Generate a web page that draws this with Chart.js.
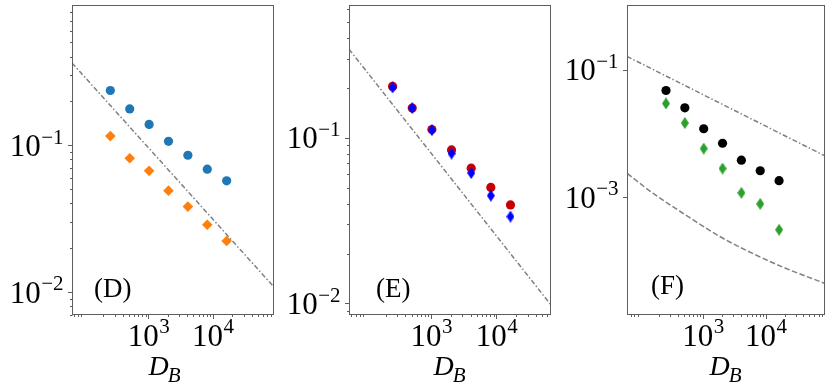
<!DOCTYPE html>
<html><head><meta charset="utf-8">
<script src="https://cdn.jsdelivr.net/npm/chart.js@4.4.1/dist/chart.umd.min.js"></script>
<style>
html,body{margin:0;padding:0;background:#fff;}
#wrap{position:relative;width:830px;height:390px;background:#fff;}
canvas{position:absolute;left:0;top:0;}
</style></head><body>
<div id="wrap">
<canvas id="cD" width="830" height="390"></canvas>
<canvas id="cE" width="830" height="390"></canvas>
<canvas id="cF" width="830" height="390"></canvas>
</div>
<script>
// ---------- data ----------
const DB = [256, 512, 1024, 2048, 4096, 8192, 16384];

const dCircle  = [0.235, 0.176, 0.138, 0.106, 0.0852, 0.0685, 0.0571];
const dDiamond = [0.115, 0.0813, 0.0667, 0.0489, 0.0381, 0.0287, 0.0222];
const dRefX = [65, 89000];
const dRefY = [0.362, 0.0108];

const eCircle  = [0.204, 0.151, 0.112, 0.0844, 0.0655, 0.0501, 0.0393];
const eDiamond = [0.201, 0.151, 0.111, 0.0802, 0.0612, 0.0447, 0.0334];
const eRefX = [55, 68400];
const eRefY = [0.342, 0.00978];

const fCircle  = [0.047, 0.0251, 0.0118, 0.00698, 0.00379, 0.00258, 0.0018];
const fDiamond = [0.0294, 0.0145, 0.00575, 0.0028, 0.00116, 0.000778, 0.000305];
const fRef1X = [61, 88700];
const fRef1Y = [0.1615, 0.00441];
const fRef2X = [61.6, 162, 547, 1836, 6167, 20800, 89000];
const fRef2Y = [0.00234, 0.001127, 0.00051, 0.00024, 0.00013, 0.000076, 0.0000438];

// tick labels
const xMajorTicks = [1e3, 1e4];
const xMajorExp   = ['3', '4'];
const dYMajor = [1e-1, 1e-2];   const dYExp = ['\u22121', '\u22122'];
const eYMajor = [1e-1, 1e-2];   const eYExp = ['\u22121', '\u22122'];
const fYMajor = [1e-1, 1e-3];   const fYExp = ['\u22121', '\u22123'];
const panelNames = ['(D)', '(E)', '(F)'];
const xTitleMain = 'D', xTitleSub = 'B';

// ---------- helpers ----------
const SERIF = "'Liberation Serif', 'Times New Roman', serif";
const FRAME = '#5e5e5e';
const REFC = '#808080';

function pts(xs, ys) { return xs.map((x, i) => ({x: x, y: ys[i]})); }

function thinDiamond(color, w, h) {
  const c = document.createElement('canvas');
  c.width = w; c.height = h;
  const g = c.getContext('2d');
  g.fillStyle = color;
  g.beginPath();
  g.moveTo(w / 2, 0); g.lineTo(w, h / 2); g.lineTo(w / 2, h); g.lineTo(0, h / 2);
  g.closePath(); g.fill();
  return c;
}

function minorValues(min, max) {
  const out = [];
  for (let e = Math.floor(Math.log10(min)); e <= Math.ceil(Math.log10(max)); e++) {
    for (let k = 2; k <= 9; k++) {
      const v = k * Math.pow(10, e);
      if (v >= min && v <= max) out.push(v);
    }
  }
  return out;
}

function markerSet(data, color, style, radius, order) {
  return {
    data: data, showLine: false, order: order,
    pointStyle: style, pointRadius: radius, pointHoverRadius: radius,
    backgroundColor: color, borderColor: color, borderWidth: 0
  };
}
function refLine(data, dash, order, smooth) {
  return {
    data: data, showLine: true, order: order, pointRadius: 0, pointHoverRadius: 0,
    borderColor: REFC, borderWidth: 1.5, borderDash: dash, fill: false,
    cubicInterpolationMode: smooth ? 'monotone' : 'default', tension: 0
  };
}

function decor(p) {
  return {
    id: 'decor' + p.name,
    afterDraw(chart) {
      const c = chart.ctx, a = chart.chartArea, xs = chart.scales.x, ys = chart.scales.y;
      c.save();
      c.strokeStyle = FRAME; c.lineWidth = 1;
      const L = Math.round(a.left) + 0.5, R = Math.round(a.right) - 0.5;
      const T = Math.round(a.top) + 0.5, B = Math.round(a.bottom) - 0.5;
      c.strokeRect(L, T, R - L, B - T);
      c.beginPath();
      xMajorTicks.forEach(v => { const x = Math.round(xs.getPixelForValue(v)) + 0.5; c.moveTo(x, B); c.lineTo(x, B + 4.5); });
      minorValues(p.xMin, p.xMax).forEach(v => { const x = Math.round(xs.getPixelForValue(v)) + 0.5; c.moveTo(x, B); c.lineTo(x, B + 2.5); });
      p.yMajor.forEach(v => { const y = Math.round(ys.getPixelForValue(v)) + 0.5; c.moveTo(L, y); c.lineTo(L - 4.5, y); });
      if (p.yMinor) minorValues(p.yMin, p.yMax).forEach(v => { const y = Math.round(ys.getPixelForValue(v)) + 0.5; c.moveTo(L, y); c.lineTo(L - 2.5, y); });
      c.stroke();

      c.fillStyle = '#000';
      c.textBaseline = 'alphabetic';
      c.textAlign = 'left';
      const bigF = '31px ' + SERIF, supF = '21px ' + SERIF;
      // x tick labels
      xMajorTicks.forEach((v, i) => {
        c.font = bigF; const wb = c.measureText('10').width;
        c.font = supF; const we = c.measureText(xMajorExp[i]).width;
        const x0 = xs.getPixelForValue(v) - (wb + we) / 2;
        c.font = bigF; c.fillText('10', x0, a.bottom + 31);
        c.font = supF; c.fillText(xMajorExp[i], x0 + wb + 0.5, a.bottom + 18);
      });
      // y tick labels
      p.yMajor.forEach((v, i) => {
        c.font = bigF; const wb = c.measureText('10').width;
        c.font = supF; const we = c.measureText(p.yExp[i]).width;
        const y = ys.getPixelForValue(v);
        const x0 = a.left - 9 - (wb + we);
        c.font = bigF; c.fillText('10', x0, y + 10.8);
        c.font = supF; c.fillText(p.yExp[i], x0 + wb + 0.5, y - 1.5);
      });
      // axis title D_B
      c.font = 'italic 28px ' + SERIF; const wD = c.measureText(xTitleMain).width;
      c.font = 'italic 21px ' + SERIF; const wB = c.measureText(xTitleSub).width;
      const cx = (a.left + a.right) / 2 + p.titleOff - (wD + wB) / 2;
      c.font = 'italic 28px ' + SERIF; c.fillText(xTitleMain, cx, 374.5);
      c.font = 'italic 21px ' + SERIF; c.fillText(xTitleSub, cx + wD - 1, 381.5);
      // panel label
      c.font = '27px ' + SERIF;
      c.fillText(p.name, a.left + p.labX, p.labY);
      c.restore();
    }
  };
}

function makeChart(id, p) {
  const YW = 10;
  return new Chart(document.getElementById(id), {
    type: 'scatter',
    data: { datasets: p.datasets },
    options: {
      responsive: false, animation: false, devicePixelRatio: 1,
      events: [],
      layout: { padding: { left: p.L - YW, right: 830 - p.R, top: p.T, bottom: 0 } },
      plugins: { legend: { display: false }, tooltip: { enabled: false } },
      scales: {
        x: { type: 'logarithmic', min: p.xMin, max: p.xMax,
             grid: { display: false }, border: { display: false }, ticks: { display: false },
             afterFit: s => { s.height = 390 - p.B; } },
        y: { type: 'logarithmic', min: p.yMin, max: p.yMax,
             grid: { display: false }, border: { display: false }, ticks: { display: false },
             afterFit: s => { s.width = YW; } }
      }
    },
    plugins: [decor(p)]
  });
}

// ---------- panels ----------
makeChart('cD', {
  name: panelNames[0], L: 72, R: 274, T: 3, B: 315,
  xMin: 65, xMax: 89000, yMin: 0.00697, yMax: 0.893,
  yMajor: dYMajor, yExp: dYExp, yMinor: true,
  titleOff: -8, labX: 22, labY: 297,
  datasets: [
    refLine(pts(dRefX, dRefY), [5, 2.2, 1.5, 2.2], 5, false),
    markerSet(pts(DB, dCircle), '#1f77b4', 'circle', 4.6, 1),
    markerSet(pts(DB, dDiamond), '#ff7f0e', 'rectRot', 5.3, 0)
  ]
});

makeChart('cE', {
  name: panelNames[1], L: 349, R: 551, T: 3, B: 315,
  xMin: 55, xMax: 68400, yMin: 0.00851, yMax: 0.632,
  yMajor: eYMajor, yExp: eYExp, yMinor: true,
  titleOff: 0, labX: 27, labY: 297,
  datasets: [
    refLine(pts(eRefX, eRefY), [5, 2.2, 1.5, 2.2], 5, false),
    markerSet(pts(DB, eCircle), '#c80000', 'circle', 4.6, 1),
    markerSet(pts(DB, eDiamond), '#0000ff', thinDiamond('#0000ff', 8, 12), 5, 0)
  ]
});

makeChart('cF', {
  name: panelNames[2], L: 627, R: 827, T: 3, B: 315,
  xMin: 61, xMax: 88700, yMin: 1.4e-5, yMax: 1.036,
  yMajor: fYMajor, yExp: fYExp, yMinor: false,
  titleOff: 0, labX: 24, labY: 294,
  datasets: [
    refLine(pts(fRef1X, fRef1Y), [5, 2.2, 1.5, 2.2], 5, false),
    refLine(pts(fRef2X, fRef2Y), [5.5, 2.5], 6, true),
    markerSet(pts(DB, fCircle), '#000000', 'circle', 4.6, 1),
    markerSet(pts(DB, fDiamond), '#2ca02c', thinDiamond('#2ca02c', 8, 12), 5, 0)
  ]
});
</script>
</body></html>
